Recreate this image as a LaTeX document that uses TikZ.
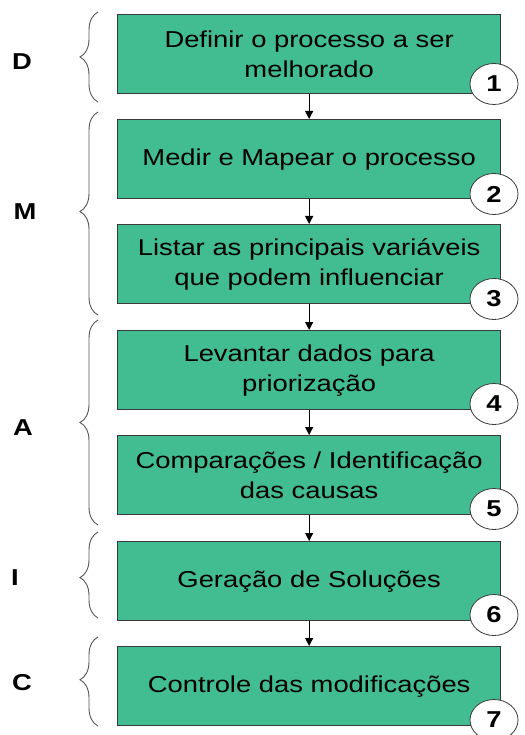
\documentclass[tikz,border=0pt]{standalone}
\usepackage{fontspec}
\setmainfont{Liberation Sans}
\newfontfamily\wsans[FakeStretch=1.19]{Liberation Sans}
\usetikzlibrary{decorations.pathreplacing,arrows.meta}
\definecolor{boxgreen}{HTML}{42BC91}
\definecolor{edgegray}{HTML}{3A3A3A}
\definecolor{bracegray}{HTML}{555555}
\tikzset{
  stepbox/.style={draw=edgegray, line width=1.3pt, fill=boxgreen, minimum width=383pt, minimum height=79pt,
    inner sep=0pt, text width=370pt, align=center, font=\wsans\fontsize{23}{30}\selectfont, anchor=north west},
  numcirc/.style={draw=edgegray, line width=0.8pt, fill=white, ellipse, minimum width=48pt, minimum height=41pt, inner sep=0pt,
    font=\wsans\bfseries\fontsize{23}{23}\selectfont},
  phase/.style={font=\wsans\bfseries\fontsize{23}{23}\selectfont, inner sep=0pt},
  flow/.style={-{Triangle[length=8pt,width=8pt]}, line width=1pt, black},
  bracket/.style={decorate, decoration={brace, amplitude=18pt, aspect=#1}, draw=bracegray, line width=0.9pt},
}
\usetikzlibrary{shapes.geometric}
\begin{document}
\begin{tikzpicture}[x=1pt,y=-1pt]
\useasboundingbox (0,0) rectangle (524,735);
\clip (0,0) rectangle (524,735);
% boxes
\node[stepbox] (b1) at (117,14) {Definir o processo a ser\\melhorado};
\node[stepbox] (b2) at (117,119) {Medir e Mapear o processo};
\node[stepbox] (b3) at (117,224) {Listar as principais variáveis\\que podem influenciar};
\node[stepbox] (b4) at (117,330) {Levantar dados para\\priorização};
\node[stepbox] (b5) at (117,435) {Comparações / Identificação\\das causas};
\node[stepbox] (b6) at (117,541) {Geração de Soluções};
\node[stepbox] (b7) at (117,646) {Controle das modificações};
% arrows
\draw[flow] (b1.south) -- (b2.north);
\draw[flow] (b2.south) -- (b3.north);
\draw[flow] (b3.south) -- (b4.north);
\draw[flow] (b4.south) -- (b5.north);
\draw[flow] (b5.south) -- (b6.north);
\draw[flow] (b6.south) -- (b7.north);
% numbers
\node[numcirc] (n1) at (494,84) {1};
\node[numcirc] (n2) at (494,194) {2};
\node[numcirc] (n3) at (494,299) {3};
\node[numcirc] (n4) at (494,404) {4};
\node[numcirc] (n5) at (494,509) {5};
\node[numcirc] (n6) at (494,615) {6};
\node[numcirc] (n7) at (494,720) {7};
% braces
\coordinate (dB) at (98,102); \coordinate (dT) at (98,12);
\coordinate (mB) at (98,315); \coordinate (mT) at (98,112);
\coordinate (aB) at (98,525); \coordinate (aT) at (98,320);
\coordinate (iB) at (98,618); \coordinate (iT) at (98,532);
\coordinate (cB) at (98,726); \coordinate (cT) at (98,637);
\draw[bracket=0.5] (dB) -- (dT);
\draw[bracket=0.51] (mB) -- (mT);
\draw[bracket=0.5] (aB) -- (aT);
\draw[bracket=0.47] (iB) -- (iT);
\draw[bracket=0.52] (cB) -- (cT);
% phase letters
\node[phase] (D) at (22,62) {D};
\node[phase] (M) at (25,212) {M};
\node[phase] (A) at (23,428) {A};
\node[phase] (I) at (15,578) {I};
\node[phase] (C) at (22,683) {C};
\end{tikzpicture}
\end{document}
